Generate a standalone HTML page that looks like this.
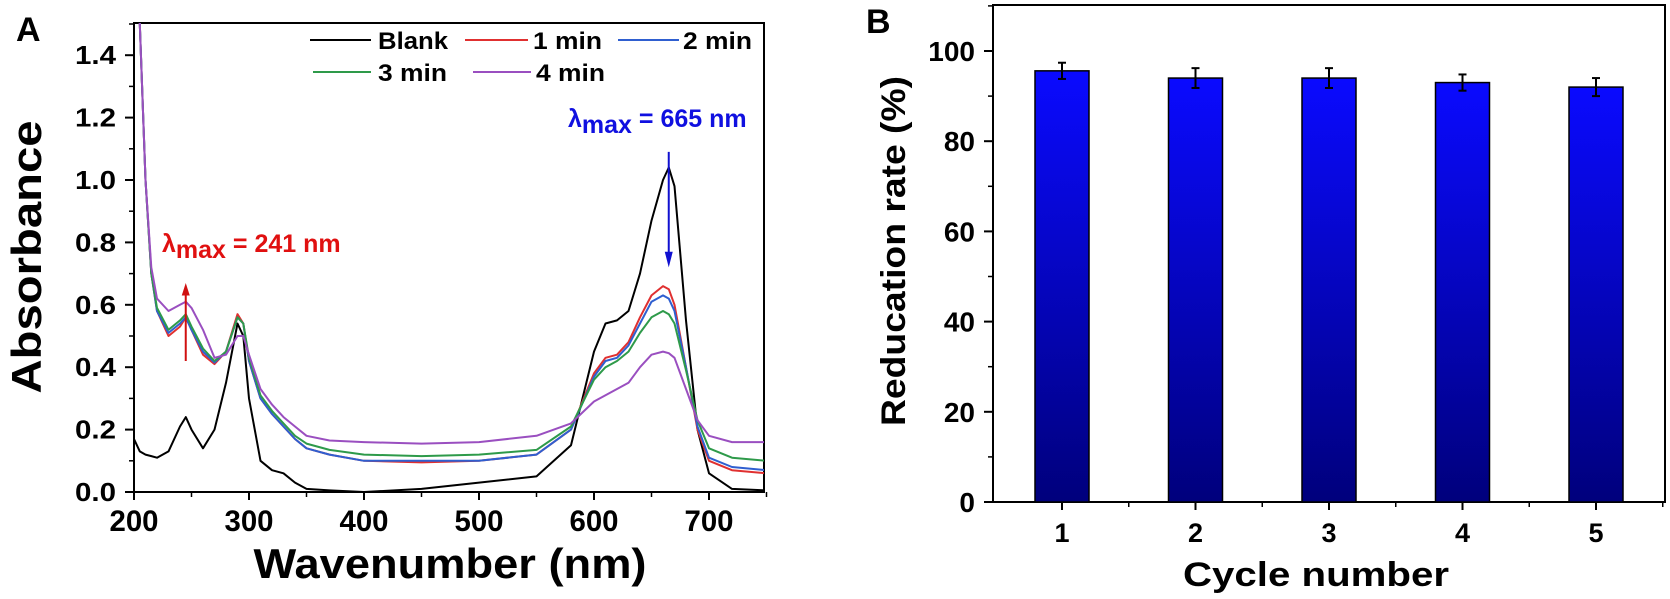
<!DOCTYPE html>
<html><head><meta charset="utf-8">
<style>
html,body{margin:0;padding:0;background:#fff;}
svg{display:block;font-family:"Liberation Sans",Arial,sans-serif;}
</style></head>
<body>
<svg id="chart" width="1670" height="599" viewBox="0 0 1670 599" xmlns="http://www.w3.org/2000/svg">
<defs>
<linearGradient id="barGrad" x1="0" y1="0" x2="0" y2="1">
<stop offset="0" stop-color="#0a0aff"/>
<stop offset="1" stop-color="#00007c"/>
</linearGradient>
</defs>
<g id="panelA"></g>
<g id="panelB"></g>
</svg>
<script>
// ---------- Panel A data ----------
const wl = [200,205,210,215,220,230,240,245,250,260,270,280,290,295,300,310,320,330,340,350,370,400,450,500,550,580,600,610,620,630,640,650,660,665,670,680,690,700,720,750];
const blank = [0.17,0.13,0.12,0.115,0.11,0.13,0.21,0.24,0.20,0.14,0.20,0.35,0.54,0.50,0.30,0.10,0.07,0.06,0.03,0.01,0.005,0.0,0.01,0.03,0.05,0.15,0.45,0.54,0.55,0.58,0.70,0.87,1.00,1.04,0.98,0.55,0.20,0.06,0.01,0.005];
const min1 = [1.9,1.5,1.0,0.70,0.58,0.50,0.53,0.56,0.52,0.44,0.41,0.45,0.57,0.54,0.42,0.30,0.25,0.21,0.17,0.14,0.12,0.10,0.095,0.10,0.12,0.20,0.38,0.43,0.44,0.48,0.56,0.63,0.66,0.65,0.60,0.40,0.20,0.10,0.07,0.06];
const min2 = [1.9,1.5,1.0,0.70,0.58,0.51,0.54,0.56,0.52,0.45,0.415,0.45,0.56,0.54,0.42,0.30,0.25,0.21,0.17,0.14,0.12,0.10,0.10,0.10,0.12,0.20,0.37,0.42,0.43,0.47,0.54,0.61,0.63,0.62,0.58,0.40,0.21,0.11,0.08,0.07];
const min3 = [1.9,1.5,1.0,0.70,0.59,0.52,0.55,0.57,0.53,0.46,0.42,0.45,0.56,0.54,0.43,0.31,0.26,0.22,0.18,0.155,0.135,0.12,0.115,0.12,0.135,0.21,0.36,0.40,0.42,0.45,0.51,0.56,0.58,0.57,0.54,0.39,0.23,0.14,0.11,0.10];
const min4 = [1.9,1.5,1.0,0.72,0.62,0.58,0.60,0.61,0.59,0.52,0.43,0.44,0.50,0.50,0.44,0.33,0.28,0.24,0.21,0.18,0.165,0.16,0.155,0.16,0.18,0.22,0.29,0.31,0.33,0.35,0.40,0.44,0.45,0.445,0.43,0.33,0.23,0.18,0.16,0.16];
const seriesNames = ["Blank","1 min","2 min","3 min","4 min"];
const seriesColors = ["#000000","#e03030","#2f5fd0","#2e9a4a","#9a4fc0"];
const xTicksA = [200,300,400,500,600,700];
const yTicksA = [0.0,0.2,0.4,0.6,0.8,1.0,1.2,1.4];

// ---------- Panel B data ----------
const cycles = ["1","2","3","4","5"];
const rates = [95.6,94,94,93,92];
const errs = [1.8,2.2,2.2,1.8,2.0];
const yTicksB = [0,20,40,60,80,100];

const NS = "http://www.w3.org/2000/svg";
function mk(parent, tag, attrs, text){
  const e = document.createElementNS(NS, tag);
  for (const k in attrs) e.setAttribute(k, attrs[k]);
  if (text !== undefined) e.textContent = text;
  parent.appendChild(e);
  return e;
}

// ===== Panel A =====
const A = document.getElementById('panelA');
const aL = 134, aR = 764, aT = 23, aB = 492;
const xA = v => aL + (v - 200) * 1.15;
const yA = v => aB - v * 312;

mk(A,'clipPath',{id:'clipA'});
mk(document.getElementById('clipA'),'rect',{x:aL,y:aT,width:aR-aL,height:aB-aT});

const frameA = mk(A,'rect',{x:aL,y:aT,width:aR-aL,height:aB-aT,fill:'none',stroke:'#000','stroke-width':2});



const allSeries = [blank,min1,min2,min3,min4];
const gLines = mk(A,'g',{'clip-path':'url(#clipA)'});


for (let s = 0; s < allSeries.length; s++){
  const pts = wl.map((w,i)=> xA(w).toFixed(1)+','+yA(allSeries[s][i]).toFixed(1)).join(' ');
  const pl = mk(gLines,'polyline',{points:pts,fill:'none',stroke:seriesColors[s],'stroke-width':2,'stroke-linejoin':'round'});
  
  
}

for (const t of xTicksA){
  const tk = mk(A,'line',{x1:xA(t),x2:xA(t),y1:aB,y2:aB+8,stroke:'#000','stroke-width':2});
  
  
  const lb = mk(A,'text',{x:xA(t),y:531,'text-anchor':'middle','font-size':30,'font-weight':'bold',textLength:49,lengthAdjust:'spacingAndGlyphs'},String(t));
  
  
  const mt = mk(A,'line',{x1:xA(t+50),x2:xA(t+50),y1:aB,y2:aB+5,stroke:'#000','stroke-width':1.5});
  
  
}
for (const t of yTicksA){
  const tk = mk(A,'line',{x1:aL-9,x2:aL,y1:yA(t),y2:yA(t),stroke:'#000','stroke-width':2});
  
  
  const mt = mk(A,'line',{x1:aL-5,x2:aL,y1:yA(t+0.1),y2:yA(t+0.1),stroke:'#000','stroke-width':1.5});
  
  
  const lb = mk(A,'text',{x:116,y:yA(t)+9,'text-anchor':'end','font-size':26,'font-weight':'bold',textLength:41,lengthAdjust:'spacingAndGlyphs'},t.toFixed(1));
  
  
}
const yTitleA = mk(A,'text',{x:0,y:0,transform:'translate(41,257) rotate(-90)','text-anchor':'middle','font-size':42,'font-weight':'bold',textLength:273,lengthAdjust:'spacingAndGlyphs'},'Absorbance');


const xTitleA = mk(A,'text',{x:450,y:578,'text-anchor':'middle','font-size':42,'font-weight':'bold',textLength:393,lengthAdjust:'spacingAndGlyphs'},'Wavenumber (nm)');


const labA = mk(A,'text',{x:16,y:41,'font-size':34,'font-weight':'bold'},'A');



// legend
const legPos = [[310,40,371,378],[465,40,528,533],[618,40,679,683],[313,72,371,378],[473,72,531,536]];
for (let s = 0; s < 5; s++){
  const [lx,ly,lx2,tx] = legPos[s];
  const g = mk(A,'g',{});
  
  
  mk(g,'line',{x1:lx,x2:lx2,y1:ly,y2:ly,stroke:seriesColors[s],'stroke-width':2});
  mk(g,'text',{x:tx,y:ly+9,'font-size':24,'font-weight':'bold',textLength:(s===0?70:69),lengthAdjust:'spacingAndGlyphs'},seriesNames[s]);
}

// annotations
const arR = mk(A,'g',{});


mk(arR,'line',{x1:xA(245),x2:xA(245),y1:yA(0.42),y2:yA(0.64),stroke:'#d01010','stroke-width':2});
mk(arR,'polygon',{points:`${xA(245)-4},${yA(0.63)} ${xA(245)+4},${yA(0.63)} ${xA(245)},${yA(0.67)}`,fill:'#d01010'});
const tR = mk(A,'text',{x:162,y:252,'font-size':25,'font-weight':'bold',fill:'#e01010'});


tR.innerHTML = 'λ<tspan dy="6">max</tspan><tspan dy="-6"> = 241 nm</tspan>';
const arB = mk(A,'g',{});


mk(arB,'line',{x1:xA(665),x2:xA(665),y1:yA(1.09),y2:yA(0.76),stroke:'#1010d0','stroke-width':2});
mk(arB,'polygon',{points:`${xA(665)-4},${yA(0.77)} ${xA(665)+4},${yA(0.77)} ${xA(665)},${yA(0.72)}`,fill:'#1010d0'});
const tB = mk(A,'text',{x:568,y:127,'font-size':25,'font-weight':'bold',fill:'#1010e0'});


tB.innerHTML = 'λ<tspan dy="6">max</tspan><tspan dy="-6"> = 665 nm</tspan>';

// ===== Panel B =====
const B = document.getElementById('panelB');
const bL = 993, bR = 1665, bT = 5, bB = 502;
const xB = i => 1062 + i * 133.5;
const yB = v => bB - v * 4.51;
const barW = 54;

const frameB = mk(B,'rect',{x:bL,y:bT,width:bR-bL,height:bB-bT,fill:'none',stroke:'#000','stroke-width':2});



for (let i = 0; i < cycles.length; i++){
  const r = mk(B,'rect',{x:xB(i)-barW/2,y:yB(rates[i]),width:barW,height:bB-yB(rates[i]),fill:'url(#barGrad)',stroke:'#000','stroke-width':1.5});
  
  
  const eb = mk(B,'g',{stroke:'#000','stroke-width':2});
  
  
  mk(eb,'line',{x1:xB(i),x2:xB(i),y1:yB(rates[i]+errs[i]),y2:yB(rates[i]-errs[i])});
  mk(eb,'line',{x1:xB(i)-4,x2:xB(i)+4,y1:yB(rates[i]+errs[i]),y2:yB(rates[i]+errs[i])});
  mk(eb,'line',{x1:xB(i)-4,x2:xB(i)+4,y1:yB(rates[i]-errs[i]),y2:yB(rates[i]-errs[i])});
  const tk = mk(B,'line',{x1:xB(i),x2:xB(i),y1:bB,y2:bB+8,stroke:'#000','stroke-width':2});
  
  
  const mt = mk(B,'line',{x1:xB(i)+66.75,x2:xB(i)+66.75,y1:bB,y2:bB+5,stroke:'#000','stroke-width':1.5});
  
  
  const lb = mk(B,'text',{x:xB(i),y:542,'text-anchor':'middle','font-size':27,'font-weight':'bold'},cycles[i]);
  
  
}
for (const t of yTicksB){
  const tk = mk(B,'line',{x1:bL-9,x2:bL,y1:yB(t),y2:yB(t),stroke:'#000','stroke-width':2});
  
  
  const mt = mk(B,'line',{x1:bL-5,x2:bL,y1:yB(t+10),y2:yB(t+10),stroke:'#000','stroke-width':1.5});
  
  
  const lb = mk(B,'text',{x:975,y:yB(t)+10,'text-anchor':'end','font-size':28,'font-weight':'bold'},String(t));
  
  
}
const yTitleB = mk(B,'text',{x:0,y:0,transform:'translate(905,251) rotate(-90)','text-anchor':'middle','font-size':34,'font-weight':'bold',textLength:350,lengthAdjust:'spacingAndGlyphs'},'Reducation rate (%)');


const xTitleB = mk(B,'text',{x:1316,y:586,'text-anchor':'middle','font-size':34,'font-weight':'bold',textLength:266,lengthAdjust:'spacingAndGlyphs'},'Cycle number');


const labB = mk(B,'text',{x:866,y:33,'font-size':34,'font-weight':'bold'},'B');


</script>
</body></html>
